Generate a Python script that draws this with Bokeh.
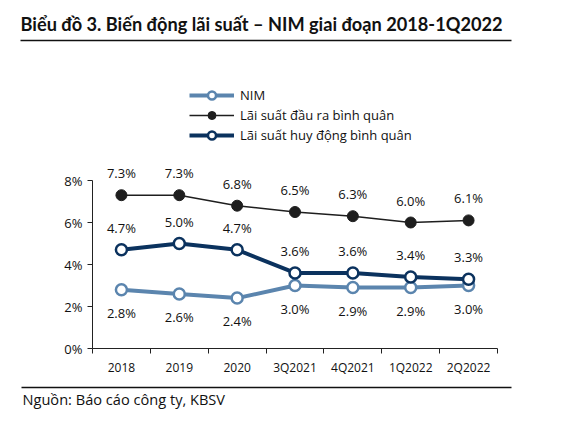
from bokeh.plotting import figure
from bokeh.models import (ColumnDataSource, LabelSet, Label, Legend, LegendItem,
                          FixedTicker, PrintfTickFormatter, Arrow, Range1d)
from bokeh.core.properties import value
from bokeh.embed import file_html
from bokeh.resources import INLINE

categories = ["2018", "2019", "2020", "3Q2021", "4Q2021", "1Q2022", "2Q2022"]
nim = [2.8, 2.6, 2.4, 3.0, 2.9, 2.9, 3.0]
lending = [7.3, 7.3, 6.8, 6.5, 6.3, 6.0, 6.1]
deposit = [4.7, 5.0, 4.7, 3.6, 3.6, 3.4, 3.3]
y_ticks = [0, 2, 4, 6, 8]

title_text = "Biểu đồ 3. Biến động lãi suất – NIM giai đoạn 2018-1Q2022"
source_text = "Nguồn: Báo cáo công ty, KBSV"
series_names = ["NIM", "Lãi suất đầu ra bình quân", "Lãi suất huy động bình quân"]

FONT = "Open Sans"
NIM_C = "#5B85AE"
DEP_C = "#0B325E"
LEN_C = "#1E1E1E"
TXT_C = "#111111"

W, H = 547, 426
OFF = 1  # observed page offset of the canvas
n = len(categories)

# layout constants in page pixels
PX_LEFT, PX_RIGHT = 93, 498      # plot area horizontally
PX_ZERO, PX_PER_UNIT = 349, 21   # y=0 line and px per 1%
cat_w = (PX_RIGHT - PX_LEFT) / n

def dx(px):
    return (px - PX_LEFT) / cat_w - 0.5

def dy(py):
    return (PX_ZERO - py) / PX_PER_UNIT

p = figure(width=W, height=H, output_backend="svg", toolbar_location=None,
           x_range=Range1d(dx(OFF), dx(OFF + W)), y_range=Range1d(dy(OFF + H), dy(OFF)),
           min_border=0)
p.outline_line_color = None
p.xgrid.visible = False
p.ygrid.visible = False
p.background_fill_color = "white"
p.border_fill_color = "white"

xs = list(range(n))
pct = lambda arr: [f"{v:.1f}%" for v in arr]

src = ColumnDataSource(dict(x=xs, nim=nim, lending=lending, deposit=deposit,
                            nim_l=pct(nim), len_l=pct(lending), dep_l=pct(deposit)))

# axes (fixed inside the frame)
xa = p.xaxis[0]
xa.fixed_location = 0
xa.bounds = (-0.5, n - 0.5)
xa.ticker = FixedTicker(ticks=xs, minor_ticks=[i - 0.5 for i in range(n + 1)])
xa.major_label_overrides = {i: c for i, c in enumerate(categories)}
xa.major_tick_line_color = None
xa.minor_tick_line_color = "#222222"
xa.minor_tick_out = 5
xa.minor_tick_in = 0
xa.axis_line_color = "#222222"
xa.major_label_text_font = FONT
xa.major_label_text_font_size = "12px"
xa.major_label_text_color = TXT_C
xa.major_label_standoff = 4

ya = p.yaxis[0]
ya.fixed_location = -0.5
ya.ticker = FixedTicker(ticks=y_ticks)
ya.formatter = PrintfTickFormatter(format="%d%%")
ya.bounds = (0, 8)
ya.axis_line_color = "#222222"
ya.major_tick_line_color = "#222222"
ya.major_tick_out = 5
ya.major_tick_in = 0
ya.minor_tick_line_color = None
ya.major_label_text_font = FONT
ya.major_label_text_font_size = "13px"
ya.major_label_text_color = TXT_C
ya.major_label_standoff = 5

# lines
r_len_l = p.line("x", "lending", source=src, line_color=LEN_C, line_width=1.5)
r_len_m = p.scatter("x", "lending", source=src, size=11, fill_color=LEN_C,
                    line_color=LEN_C, line_width=1)
r_nim_l = p.line("x", "nim", source=src, line_color=NIM_C, line_width=4)
r_nim_m = p.scatter("x", "nim", source=src, size=11, fill_color="white",
                    line_color=NIM_C, line_width=2.5)
r_dep_l = p.line("x", "deposit", source=src, line_color=DEP_C, line_width=4)
r_dep_m = p.scatter("x", "deposit", source=src, size=11, fill_color="white",
                    line_color=DEP_C, line_width=2.5)

# data labels
common = dict(text_font=value(FONT), text_font_size=value("13px"), text_color=TXT_C,
              text_align="center", text_baseline="middle")
p.add_layout(LabelSet(x="x", y="lending", text="len_l", source=src, y_offset=22, **common))
p.add_layout(LabelSet(x="x", y="deposit", text="dep_l", source=src, y_offset=22, **common))
p.add_layout(LabelSet(x="x", y="nim", text="nim_l", source=src, y_offset=-23, **common))

# legend (location: bottom-left, px from frame bottom-left)
legend = Legend(items=[
    LegendItem(label=series_names[0], renderers=[r_nim_l, r_nim_m]),
    LegendItem(label=series_names[1], renderers=[r_len_l, r_len_m]),
    LegendItem(label=series_names[2], renderers=[r_dep_l, r_dep_m]),
], location=(190 - OFF, OFF + H - 146), orientation="vertical", glyph_width=45,
    glyph_height=20, label_height=20, label_standoff=6, spacing=0, padding=0, margin=0,
    border_line_color=None, background_fill_alpha=0,
    label_text_font=FONT, label_text_font_size="13px", label_text_color=TXT_C)
p.add_layout(legend, "center")

# title and rules
p.add_layout(Label(x=dx(21), y=dy(24), text=title_text, text_font="Lato",
                   text_font_style="bold", text_font_size="18.2px", text_color=TXT_C,
                   text_align="left", text_baseline="middle"))
p.add_layout(Arrow(x_start=dx(21), y_start=dy(41), x_end=dx(512), y_end=dy(41),
                   end=None, start=None, line_color=TXT_C, line_width=1.5))
p.add_layout(Arrow(x_start=dx(22), y_start=dy(388), x_end=dx(512), y_end=dy(388),
                   end=None, start=None, line_color=TXT_C, line_width=1.5))
p.add_layout(Label(x=dx(23), y=dy(399), text=source_text, text_font=FONT,
                   text_font_size="14.6px", text_color=TXT_C,
                   text_align="left", text_baseline="middle"))

open("out.html", "w").write(file_html(p, INLINE))
